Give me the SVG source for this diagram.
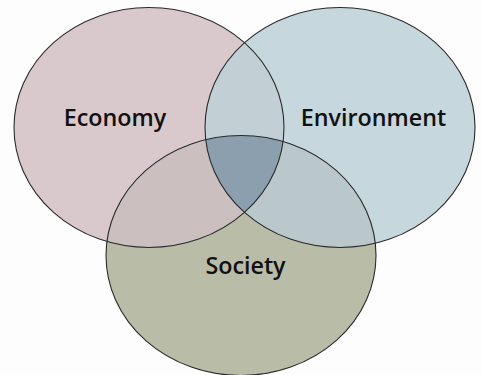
<svg xmlns="http://www.w3.org/2000/svg" width="482" height="375" viewBox="0 0 482 375">
<style>
.edge{fill:none;stroke:#2a2a2a;stroke-width:1.1}
.lbl{font-family:"Open Sans","Liberation Sans",sans-serif;font-weight:600;font-size:23.3px;fill:#111;text-anchor:middle}
</style>
<defs>
<clipPath id="cEco"><ellipse cx="149" cy="127.5" rx="135" ry="120"/></clipPath>
<clipPath id="cEnv"><ellipse cx="340" cy="127.5" rx="135" ry="120"/></clipPath>
<clipPath id="cSoc"><ellipse cx="241" cy="255.5" rx="135" ry="120"/></clipPath>
</defs>
<rect width="482" height="375" fill="#fdfdfd"/>
<g id="economy">
<ellipse cx="149" cy="127.5" rx="135" ry="120" fill="#d9c9cd"/>
</g>
<g id="environment">
<ellipse cx="340" cy="127.5" rx="135" ry="120" fill="#c7d7de"/>
</g>
<g id="society">
<ellipse cx="241" cy="255.5" rx="135" ry="120" fill="#b9bca6"/>
</g>
<g id="overlaps">
<g clip-path="url(#cEco)"><ellipse cx="340" cy="127.5" rx="135" ry="120" fill="#c2d0d6"/></g>
<g clip-path="url(#cEco)"><ellipse cx="241" cy="255.5" rx="135" ry="120" fill="#cbbfbf"/></g>
<g clip-path="url(#cEnv)"><ellipse cx="241" cy="255.5" rx="135" ry="120" fill="#bac8cb"/></g>
<g clip-path="url(#cEco)"><g clip-path="url(#cEnv)"><ellipse cx="241" cy="255.5" rx="135" ry="120" fill="#8b9fae"/></g></g>
</g>
<g id="outlines">
<ellipse class="edge" cx="149" cy="127.5" rx="135" ry="120"/>
<ellipse class="edge" cx="340" cy="127.5" rx="135" ry="120"/>
<ellipse class="edge" cx="241" cy="255.5" rx="135" ry="120"/>
</g>
<text class="lbl" x="115" y="126">Economy</text>
<text class="lbl" x="373.5" y="126">Environment</text>
<text class="lbl" x="245.5" y="274">Society</text>
</svg>
